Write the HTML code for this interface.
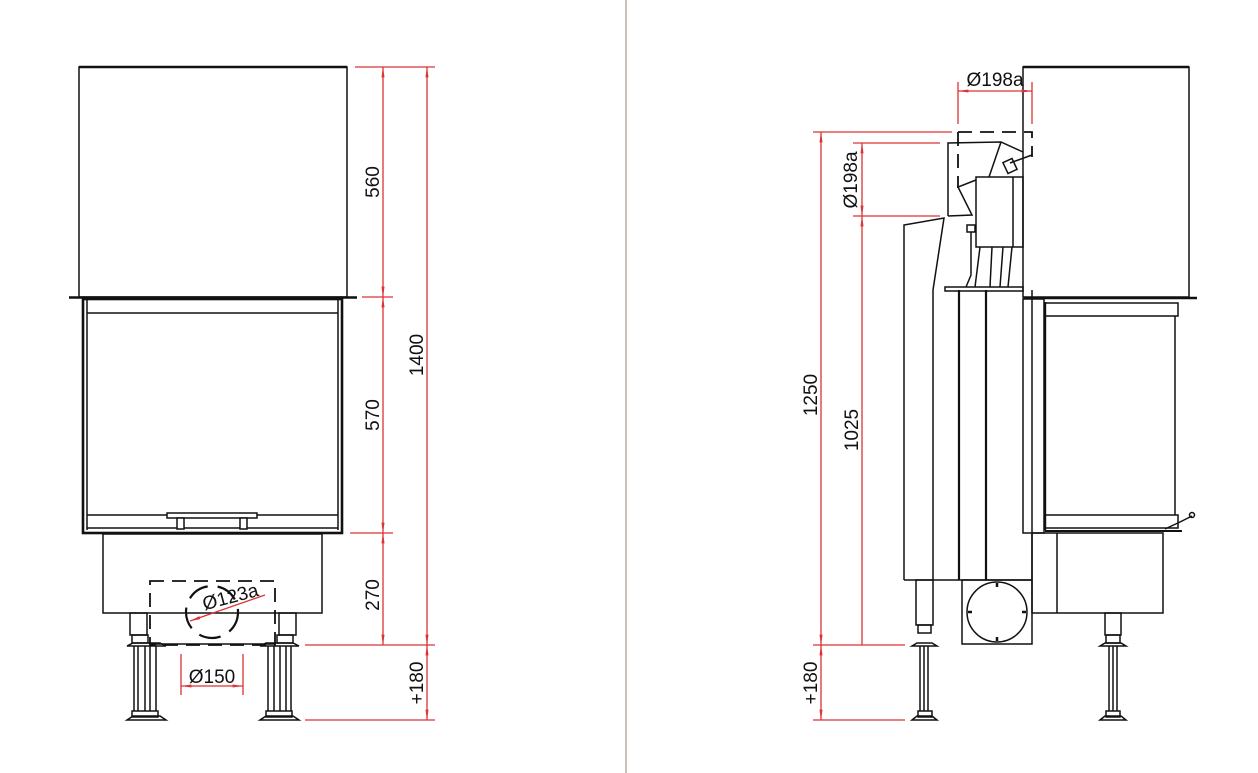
<!DOCTYPE html>
<html><head><meta charset="utf-8"><style>
html,body{margin:0;padding:0;background:#fff;}
svg{display:block}
text{font-family:"Liberation Sans",sans-serif;font-size:19px;fill:#111;}
</style></head><body>
<svg width="1258" height="773" viewBox="0 0 1258 773" xmlns="http://www.w3.org/2000/svg">
<defs>
<marker id="a" viewBox="0 0 10 10" refX="10" refY="5" markerWidth="8" markerHeight="8" orient="auto-start-reverse"><path d="M0,3.5 L10,5 L0,6.5 z" fill="#d33"/></marker>
</defs>
<line x1="626" y1="0" x2="626" y2="773" stroke="#b8aca6" stroke-width="1.5"/>

<!-- LEFT VIEW -->
<g fill="none" stroke="#111" stroke-width="1.5">
<rect x="79" y="67" width="268" height="230"/>
<line x1="79" y1="67" x2="347" y2="67" stroke-width="2.4"/>
<line x1="69" y1="297.5" x2="357" y2="297.5" stroke-width="2.6"/>
<rect x="83" y="299" width="259" height="234" stroke-width="2.6"/>
<line x1="87" y1="299" x2="87" y2="530"/><line x1="338" y1="299" x2="338" y2="530"/>
<line x1="87" y1="313" x2="338" y2="313"/>
<line x1="87" y1="515" x2="338" y2="515"/><line x1="87" y1="528" x2="338" y2="528"/>
<rect x="167" y="513" width="90" height="5" fill="#fff"/>
<rect x="177" y="518" width="7" height="11" fill="#fff"/><rect x="240" y="518" width="7" height="11" fill="#fff"/>
<rect x="103" y="534" width="219" height="79"/>
<rect x="150" y="581" width="125" height="64" stroke-dasharray="14,8" stroke-width="1.8"/>
<circle cx="212" cy="612" r="26" stroke-dasharray="22,10" stroke-width="2.2"/>
<line x1="150" y1="644" x2="275" y2="644"/>
<rect x="130" y="613" width="17" height="22"/>
<rect x="132" y="635" width="16" height="8"/>
<path d="M127,646 L133,643 L160,643 L166,646 Z"/>
<line x1="134" y1="646" x2="134" y2="711"/><line x1="138" y1="646" x2="138" y2="711"/><line x1="145" y1="646" x2="145" y2="711"/><line x1="150" y1="646" x2="150" y2="711"/><line x1="156" y1="646" x2="156" y2="711"/>
<rect x="132" y="711" width="26" height="6"/>
<path d="M127,720 L133,716 L160,716 L166,720 Z"/>
<rect x="279" y="613" width="17" height="22"/>
<rect x="277" y="635" width="16" height="8"/>
<path d="M260,646 L266,643 L293,643 L299,646 Z"/>
<line x1="268" y1="646" x2="268" y2="711"/><line x1="274" y1="646" x2="274" y2="711"/><line x1="280" y1="646" x2="280" y2="711"/><line x1="286" y1="646" x2="286" y2="711"/><line x1="291" y1="646" x2="291" y2="711"/>
<rect x="266" y="711" width="26" height="6"/>
<path d="M260,720 L266,716 L293,716 L299,720 Z"/>
</g>
<g stroke="#d33" stroke-width="1.3" fill="none">
<line x1="355" y1="67" x2="435" y2="67"/>
<line x1="362" y1="297" x2="393" y2="297"/>
<line x1="350" y1="533" x2="393" y2="533"/>
<line x1="305" y1="645" x2="435" y2="645"/>
<line x1="305" y1="720" x2="435" y2="720"/>
<line x1="383" y1="67" x2="383" y2="297" marker-start="url(#a)" marker-end="url(#a)"/>
<line x1="383" y1="297" x2="383" y2="533" marker-start="url(#a)" marker-end="url(#a)"/>
<line x1="383" y1="533" x2="383" y2="645" marker-start="url(#a)" marker-end="url(#a)"/>
<line x1="427" y1="67" x2="427" y2="645" marker-start="url(#a)" marker-end="url(#a)"/>
<line x1="427" y1="645" x2="427" y2="720" marker-start="url(#a)" marker-end="url(#a)"/>
<line x1="181" y1="654" x2="181" y2="695"/><line x1="243" y1="654" x2="243" y2="695"/>
<line x1="181" y1="686" x2="243" y2="686" marker-start="url(#a)" marker-end="url(#a)"/>
<line x1="265" y1="595" x2="190" y2="621" marker-end="url(#a)"/>
</g>
<text transform="translate(379,182) rotate(-90)" text-anchor="middle">560</text>
<text transform="translate(379,415) rotate(-90)" text-anchor="middle">570</text>
<text transform="translate(379,595) rotate(-90)" text-anchor="middle">270</text>
<text transform="translate(423,355) rotate(-90)" text-anchor="middle">1400</text>
<text transform="translate(423,683) rotate(-90)" text-anchor="middle">+180</text>
<text x="212" y="683" text-anchor="middle">Ø150</text>
<text transform="translate(232,603) rotate(-15)" text-anchor="middle">Ø123a</text>

<!-- RIGHT VIEW -->
<g fill="none" stroke="#111" stroke-width="1.5">
<rect x="1023" y="67" width="166" height="230"/>
<line x1="1023" y1="67" x2="1189" y2="67" stroke-width="2.4"/>
<line x1="1023" y1="298" x2="1197" y2="298" stroke-width="2.6"/>
<rect x="1023" y="299" width="21" height="234"/>
<line x1="1045" y1="302" x2="1045" y2="530" stroke-width="2.4"/>
<rect x="1045" y="303" width="133" height="13"/>
<line x1="1175" y1="316" x2="1175" y2="515"/>
<rect x="1045" y="515" width="133" height="13"/>
<line x1="1045" y1="531" x2="1182" y2="531" stroke-width="2"/>
<path d="M1165,529 L1180,522 L1192,516"/><circle cx="1192" cy="515" r="2.5"/>
<rect x="1032" y="533" width="131" height="80"/>
<line x1="1057" y1="533" x2="1057" y2="613"/>
<rect x="1105" y="613" width="16" height="22"/>
<rect x="1106" y="635" width="14" height="8"/>
<path d="M1100,646 L1105,643 L1121,643 L1126,646 Z"/>
<line x1="1109" y1="646" x2="1109" y2="711"/><line x1="1113" y1="646" x2="1113" y2="711"/><line x1="1117" y1="646" x2="1117" y2="711"/>
<rect x="1106" y="711" width="14" height="6"/>
<path d="M1100,720 L1105,716 L1121,716 L1126,720 Z"/>
<path d="M904,580 L904,225 L944,218 L933,290"/>
<line x1="933" y1="290" x2="933" y2="580"/>
<line x1="959" y1="290" x2="959" y2="580" stroke-width="2.2"/>
<line x1="986" y1="290" x2="986" y2="580" stroke-width="2.2"/>
<line x1="1032" y1="290" x2="1032" y2="580"/>
<line x1="904" y1="580" x2="1032" y2="580"/>
<rect x="945" y="287" width="78" height="4"/>
<rect x="962" y="580" width="70" height="64"/>
<circle cx="997" cy="612" r="30"/>
<rect x="916" y="580" width="17" height="45"/>
<rect x="918" y="625" width="13" height="8"/>
<path d="M912,646 L917,643 L932,643 L937,646 Z"/>
<line x1="920" y1="646" x2="920" y2="711"/><line x1="924" y1="646" x2="924" y2="711"/><line x1="928" y1="646" x2="928" y2="711"/>
<rect x="918" y="711" width="14" height="6"/>
<path d="M912,720 L917,716 L932,716 L937,720 Z"/>
<path d="M958,132 L1032,132 L1032,157" stroke-dasharray="14,8" stroke-width="1.8"/>
<line x1="958" y1="132" x2="958" y2="188" stroke-dasharray="14,8" stroke-width="1.8"/>
<path d="M948,216 L948,143 L1001,142 L1023,152"/>
<path d="M1001,142 L989,177"/>
<path d="M948,216 L972,215 L958,187 L976,180"/>
<path d="M1010,163 L1032,155"/>
<rect x="1005" y="160" width="10" height="12" transform="rotate(-25 1010 166)"/>
<rect x="976" y="177" width="47" height="70"/>
<line x1="1013" y1="177" x2="1013" y2="247"/>
<rect x="967" y="225" width="8" height="7"/>
<path d="M971,232 L971,275 L966,287"/>
<line x1="980" y1="247" x2="975" y2="287"/><line x1="992" y1="247" x2="990" y2="287"/><line x1="1003" y1="247" x2="1000" y2="287"/><line x1="1012" y1="247" x2="1008" y2="287"/>
</g>
<g stroke="#111" stroke-width="2.5">
<line x1="997" y1="583" x2="997" y2="587"/><line x1="997" y1="637" x2="997" y2="641"/>
<line x1="968" y1="612" x2="972" y2="612"/><line x1="1022" y1="612" x2="1026" y2="612"/>
</g>
<g stroke="#d33" stroke-width="1.3" fill="none">
<line x1="813" y1="132" x2="952" y2="132"/>
<line x1="853" y1="143" x2="940" y2="143"/>
<line x1="853" y1="216" x2="940" y2="216"/>
<line x1="813" y1="645" x2="905" y2="645"/>
<line x1="813" y1="720" x2="905" y2="720"/>
<line x1="821" y1="132" x2="821" y2="645" marker-start="url(#a)" marker-end="url(#a)"/>
<line x1="821" y1="645" x2="821" y2="720" marker-start="url(#a)" marker-end="url(#a)"/>
<line x1="862" y1="143" x2="862" y2="216" marker-start="url(#a)" marker-end="url(#a)"/>
<line x1="862" y1="216" x2="862" y2="645" marker-start="url(#a)"/>
<line x1="958" y1="82" x2="958" y2="124"/>
<line x1="1032" y1="82" x2="1032" y2="124"/>
<line x1="958" y1="91" x2="1032" y2="91" marker-start="url(#a)" marker-end="url(#a)"/>
</g>
<text x="995" y="86" text-anchor="middle">Ø198a</text>
<text transform="translate(857,180) rotate(-90)" text-anchor="middle">Ø198a</text>
<text transform="translate(817,395) rotate(-90)" text-anchor="middle">1250</text>
<text transform="translate(858,430) rotate(-90)" text-anchor="middle">1025</text>
<text transform="translate(817,683) rotate(-90)" text-anchor="middle">+180</text>
</svg>
</body></html>
